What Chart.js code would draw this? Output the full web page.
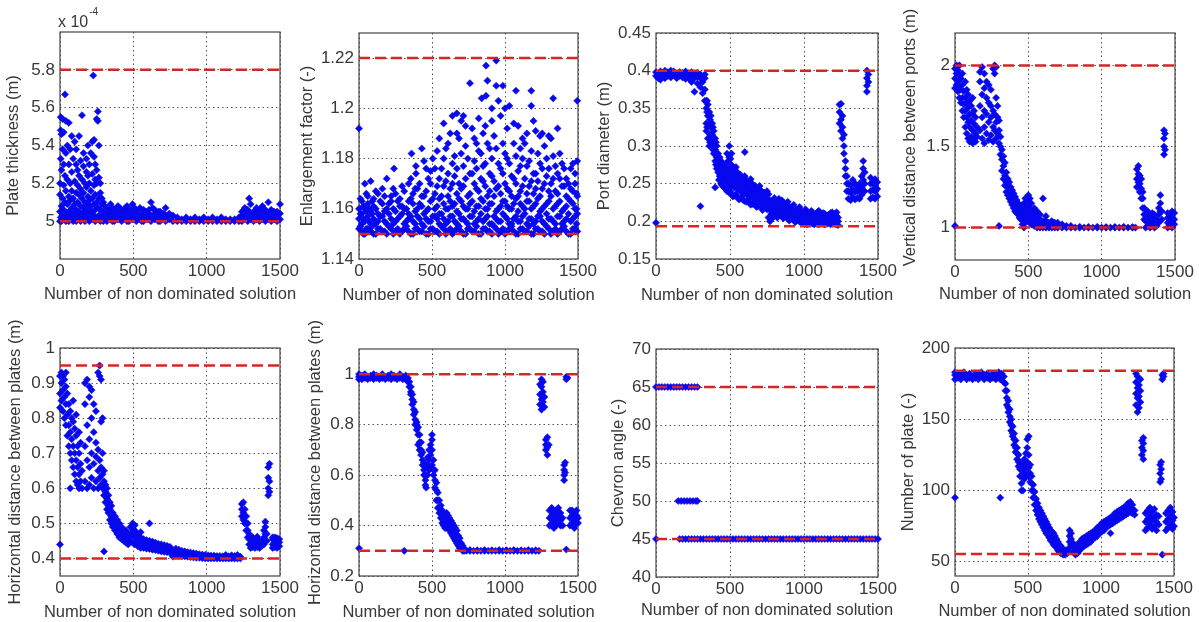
<!DOCTYPE html>
<html>
<head>
<meta charset="utf-8">
<title>Non dominated solutions</title>
<script src="https://cdn.jsdelivr.net/npm/chart.js@4.4.0/dist/chart.umd.min.js"></script>
<style>
  body { margin: 0; background: #fff; }
  #wrap { position: relative; width: 1199px; height: 622px; overflow: hidden; }
  #wrap canvas { position: absolute; }
</style>
</head>
<body>
<div id="wrap"></div>
<script>
// x axis: index of the non dominated solution
var xTicks = [0, 500, 1000, 1500];

// each row: [solution index, y values read at that index...]
// plate thickness, in units of 1e-4 m
var plateThickness = [
  [0, 5.0, 5.05, 5.14, 5.2], [5, 5.02, 5.33, 5.55, 5.48], [10, 5.0, 5.08, 5.27, 5.46], [18, 5.03, 5.12, 5.38, 5.54],
  [25, 5.01, 5.06, 5.19, 5.47, 5.3], [34, 5.67, 5.02, 5.1, 5.24], [40, 5.0, 5.04, 5.16, 5.36, 5.53], [50, 5.02, 5.09, 5.22, 5.4],
  [60, 5.0, 5.05, 5.13, 5.3, 5.52], [70, 5.03, 5.11, 5.2, 5.38], [80, 5.01, 5.07, 5.16, 5.26, 5.45], [90, 5.0, 5.04, 5.12, 5.33],
  [100, 5.02, 5.09, 5.21, 5.42], [110, 5.0, 5.06, 5.15, 5.3, 5.38], [120, 5.03, 5.1, 5.19, 5.27], [130, 5.01, 5.05, 5.14, 5.24, 5.45],
  [140, 5.0, 5.08, 5.17, 5.32], [150, 5.02, 5.04, 5.12, 5.22, 5.56], [160, 5.01, 5.07, 5.15, 5.29, 5.36], [170, 5.0, 5.05, 5.1, 5.2],
  [180, 5.03, 5.09, 5.18, 5.33, 5.26], [190, 5.01, 5.06, 5.13, 5.24, 5.4], [200, 5.0, 5.04, 5.11, 5.2, 5.3], [210, 5.02, 5.08, 5.16, 5.36],
  [220, 5.01, 5.05, 5.12, 5.25, 5.42], [227, 5.77], [232, 5.03, 5.09, 5.19, 5.34, 5.43], [240, 5.0, 5.06, 5.14, 5.22, 5.3],
  [250, 5.02, 5.1, 5.2, 5.27, 5.54], [258, 5.58, 5.53, 5.01, 5.07], [265, 5.03, 5.12, 5.23, 5.4], [275, 5.0, 5.06, 5.15, 5.2],
  [285, 5.02, 5.09, 5.12], [295, 5.0, 5.05, 5.1], [305, 5.01, 5.04, 5.08],
  [320, 5.0, 5.03, 5.07], [345, 5.01, 5.05, 5.09], [370, 5.0, 5.02, 5.06], [395, 5.01, 5.04, 5.08], [420, 5.0, 5.03, 5.06],
  [445, 5.01, 5.05, 5.07], [470, 5.0, 5.02, 5.05], [495, 5.01, 5.04, 5.09], [520, 5.0, 5.03, 5.06], [545, 5.01, 5.02, 5.07],
  [570, 5.0, 5.04, 5.06], [595, 5.01, 5.03, 5.05], [620, 5.0, 5.02, 5.1], [645, 5.01, 5.04, 5.06], [670, 5.0, 5.03, 5.05],
  [695, 5.01, 5.02, 5.04], [720, 5.0, 5.03, 5.07], [745, 5.01, 5.02, 5.04], [770, 5.0, 5.03], [800, 5.0, 5.02],
  [830, 5.01, 5.0], [860, 5.0, 5.02], [890, 5.01, 5.0], [920, 5.0, 5.02], [950, 5.01, 5.0], [980, 5.0, 5.02],
  [1010, 5.01, 5.0], [1040, 5.0, 5.02], [1070, 5.01, 5.0], [1100, 5.0, 5.02], [1130, 5.01, 5.0], [1160, 5.0, 5.01],
  [1190, 5.01, 5.0], [1220, 5.0, 5.02],
  [1240, 5.0, 5.03, 5.05], [1260, 5.01, 5.04, 5.07], [1280, 5.0, 5.03, 5.06], [1290, 5.12], [1300, 5.01, 5.04, 5.09],
  [1320, 5.0, 5.02, 5.05], [1340, 5.01, 5.04, 5.07], [1360, 5.0, 5.03, 5.06], [1380, 5.01, 5.05, 5.08], [1400, 5.0, 5.03, 5.06],
  [1420, 5.01, 5.04, 5.1], [1440, 5.0, 5.02, 5.06], [1460, 5.01, 5.04, 5.05], [1480, 5.0, 5.03, 5.05], [1500, 5.01, 5.04, 5.09],
  [332, 5.02, 5.05], [357, 5.0, 5.04, 5.07], [382, 5.02, 5.06], [407, 5.01, 5.04, 5.07], [432, 5.02, 5.05],
  [457, 5.0, 5.04, 5.08], [482, 5.02, 5.06], [507, 5.01, 5.05, 5.07], [532, 5.02, 5.04], [557, 5.0, 5.03, 5.06],
  [582, 5.02, 5.05], [607, 5.01, 5.04, 5.06], [632, 5.02, 5.07], [657, 5.01, 5.04], [682, 5.0, 5.03, 5.05], [707, 5.02, 5.04]
];

var enlargement = [
  [0, 1.192, 1.152, 1.156, 1.16], [20, 1.151, 1.154, 1.158, 1.163], [40, 1.15, 1.155, 1.16, 1.17], [60, 1.152, 1.157, 1.162, 1.165],
  [80, 1.151, 1.154, 1.159, 1.171], [100, 1.15, 1.156, 1.161, 1.164], [130, 1.152, 1.155, 1.158, 1.166], [160, 1.151, 1.157, 1.162, 1.168],
  [190, 1.15, 1.154, 1.16, 1.172], [220, 1.152, 1.156, 1.163, 1.165], [240, 1.176], [250, 1.151, 1.155, 1.159, 1.166],
  [280, 1.15, 1.157, 1.161, 1.164], [310, 1.152, 1.154, 1.16, 1.167], [340, 1.151, 1.156, 1.158, 1.163, 1.17], [360, 1.182],
  [370, 1.15, 1.155, 1.162, 1.166], [390, 1.174, 1.177], [400, 1.152, 1.157, 1.16, 1.168], [430, 1.151, 1.154, 1.161, 1.165, 1.184],
  [460, 1.15, 1.156, 1.159, 1.167, 1.176], [490, 1.152, 1.155, 1.163, 1.17, 1.175], [520, 1.151, 1.157, 1.16, 1.166, 1.176],
  [550, 1.15, 1.154, 1.158, 1.164, 1.172, 1.188], [580, 1.152, 1.156, 1.162, 1.169, 1.18, 1.194],
  [610, 1.151, 1.155, 1.16, 1.165, 1.174, 1.186], [640, 1.15, 1.157, 1.161, 1.17, 1.178, 1.197],
  [670, 1.152, 1.154, 1.159, 1.166, 1.176, 1.19, 1.198], [700, 1.151, 1.156, 1.163, 1.168, 1.182, 1.195],
  [730, 1.15, 1.155, 1.16, 1.172, 1.185, 1.193], [760, 1.152, 1.157, 1.162, 1.166, 1.174, 1.21],
  [790, 1.151, 1.154, 1.159, 1.17, 1.179, 1.188], [820, 1.15, 1.156, 1.161, 1.167, 1.183, 1.196], [840, 1.204],
  [850, 1.152, 1.155, 1.163, 1.171, 1.177, 1.19], [870, 1.217, 1.205], [880, 1.151, 1.157, 1.16, 1.165, 1.186, 1.211],
  [910, 1.15, 1.154, 1.162, 1.173, 1.18, 1.195, 1.2], [940, 1.152, 1.156, 1.159, 1.168, 1.184, 1.219, 1.209],
  [970, 1.151, 1.155, 1.161, 1.166, 1.176, 1.197], [985, 1.209], [1000, 1.15, 1.157, 1.163, 1.17, 1.182, 1.2],
  [1030, 1.152, 1.154, 1.16, 1.167, 1.178, 1.201], [1060, 1.151, 1.156, 1.162, 1.172, 1.186, 1.194], [1075, 1.207],
  [1090, 1.15, 1.155, 1.159, 1.165, 1.175, 1.193], [1120, 1.152, 1.157, 1.161, 1.169, 1.18, 1.188],
  [1150, 1.151, 1.154, 1.163, 1.166, 1.177, 1.19], [1180, 1.15, 1.156, 1.16, 1.171, 1.183, 1.207, 1.201],
  [1210, 1.152, 1.155, 1.162, 1.168, 1.174, 1.191], [1240, 1.151, 1.157, 1.159, 1.165, 1.178, 1.189],
  [1270, 1.15, 1.154, 1.161, 1.17, 1.185], [1300, 1.152, 1.156, 1.163, 1.167, 1.176, 1.189],
  [1330, 1.151, 1.155, 1.16, 1.172, 1.181, 1.204], [1360, 1.15, 1.157, 1.162, 1.166, 1.174, 1.192],
  [1390, 1.152, 1.154, 1.159, 1.169, 1.178], [1420, 1.151, 1.156, 1.161, 1.165, 1.172], [1450, 1.15, 1.155, 1.163, 1.168, 1.176],
  [1480, 1.152, 1.157, 1.16, 1.17, 1.174], [1495, 1.151, 1.158, 1.179, 1.203, 1.165],
  [10, 1.153, 1.158, 1.164], [30, 1.15, 1.156, 1.161], [50, 1.152, 1.159, 1.166], [70, 1.151, 1.155, 1.16], [90, 1.153, 1.158, 1.163],
  [115, 1.15, 1.154, 1.16, 1.167], [145, 1.152, 1.157, 1.163], [175, 1.151, 1.155, 1.159, 1.165], [205, 1.153, 1.158, 1.162],
  [235, 1.15, 1.154, 1.16, 1.168], [265, 1.152, 1.156, 1.163], [295, 1.151, 1.158, 1.161, 1.169], [325, 1.153, 1.155, 1.16],
  [355, 1.15, 1.157, 1.164, 1.172], [385, 1.152, 1.154, 1.159, 1.168], [415, 1.151, 1.156, 1.162, 1.17],
  [445, 1.153, 1.158, 1.165, 1.179], [475, 1.15, 1.155, 1.16, 1.172], [505, 1.152, 1.157, 1.164, 1.18],
  [535, 1.151, 1.156, 1.161, 1.169, 1.183], [565, 1.153, 1.158, 1.165, 1.176], [595, 1.15, 1.154, 1.16, 1.171, 1.184],
  [625, 1.152, 1.157, 1.163, 1.168, 1.19], [655, 1.151, 1.155, 1.162, 1.173, 1.181], [685, 1.153, 1.158, 1.164, 1.17, 1.188],
  [715, 1.15, 1.156, 1.161, 1.169, 1.177, 1.197], [745, 1.152, 1.154, 1.16, 1.165, 1.18], [775, 1.151, 1.157, 1.163, 1.174, 1.192],
  [805, 1.153, 1.155, 1.161, 1.168, 1.176, 1.186], [835, 1.15, 1.158, 1.164, 1.172, 1.182], [865, 1.152, 1.156, 1.16, 1.169, 1.178, 1.193],
  [895, 1.151, 1.154, 1.162, 1.167, 1.174, 1.184], [925, 1.153, 1.157, 1.165, 1.171, 1.189], [955, 1.15, 1.155, 1.16, 1.169, 1.178, 1.203],
  [985, 1.152, 1.158, 1.163, 1.174, 1.186], [1015, 1.151, 1.156, 1.161, 1.168, 1.18, 1.192], [1045, 1.153, 1.154, 1.16, 1.165, 1.173],
  [1075, 1.15, 1.157, 1.164, 1.17, 1.181], [1105, 1.152, 1.155, 1.162, 1.167, 1.177, 1.184], [1135, 1.151, 1.158, 1.16, 1.172, 1.186],
  [1165, 1.153, 1.156, 1.163, 1.169, 1.179], [1195, 1.15, 1.154, 1.161, 1.166, 1.174, 1.195], [1225, 1.152, 1.157, 1.164, 1.171, 1.182],
  [1255, 1.151, 1.155, 1.16, 1.168, 1.176, 1.19], [1285, 1.153, 1.158, 1.162, 1.173, 1.18], [1315, 1.15, 1.156, 1.165, 1.17, 1.188],
  [1345, 1.152, 1.154, 1.161, 1.167, 1.177], [1375, 1.151, 1.157, 1.163, 1.172, 1.182], [1405, 1.153, 1.155, 1.16, 1.169, 1.176],
  [1435, 1.15, 1.158, 1.164, 1.17], [1465, 1.152, 1.156, 1.162, 1.167, 1.178], [1490, 1.151, 1.154, 1.16, 1.166]
];

var portDiameter = [
  [0, 0.198, 0.393, 0.398], [15, 0.39, 0.396], [30, 0.394, 0.399, 0.388], [45, 0.392, 0.397], [60, 0.39, 0.395, 0.4],
  [80, 0.393, 0.398], [100, 0.391, 0.396, 0.4], [120, 0.394, 0.399], [140, 0.39, 0.395], [160, 0.393, 0.398], [180, 0.391, 0.397],
  [200, 0.394, 0.399, 0.389], [220, 0.39, 0.396], [240, 0.393, 0.398, 0.385], [260, 0.39, 0.395, 0.372], [280, 0.392, 0.397, 0.383],
  [300, 0.39, 0.395, 0.22, 0.378], [315, 0.37, 0.385, 0.392], [330, 0.36, 0.375, 0.39, 0.395],
  [340, 0.33, 0.35, 0.36, 0.32], [350, 0.34, 0.355, 0.31], [360, 0.33, 0.345, 0.3], [370, 0.31, 0.325, 0.34], [380, 0.3, 0.315, 0.33],
  [390, 0.29, 0.305, 0.32], [400, 0.28, 0.295, 0.31, 0.245], [410, 0.27, 0.285, 0.3], [420, 0.265, 0.28, 0.29], [430, 0.26, 0.275, 0.285],
  [440, 0.255, 0.265, 0.28, 0.25], [450, 0.25, 0.262, 0.275], [460, 0.245, 0.258, 0.27], [470, 0.243, 0.255, 0.268],
  [480, 0.24, 0.252, 0.265, 0.29], [495, 0.238, 0.25, 0.262, 0.3, 0.285], [510, 0.236, 0.248, 0.26, 0.275, 0.29],
  [530, 0.234, 0.245, 0.257, 0.27], [550, 0.232, 0.243, 0.255, 0.265], [570, 0.23, 0.24, 0.252, 0.262], [590, 0.228, 0.238, 0.25, 0.258],
  [600, 0.292], [610, 0.226, 0.236, 0.247, 0.255], [630, 0.225, 0.234, 0.245, 0.252], [650, 0.223, 0.232, 0.242, 0.25],
  [670, 0.222, 0.23, 0.24, 0.247], [690, 0.22, 0.228, 0.238, 0.244], [710, 0.219, 0.226, 0.235, 0.241], [730, 0.218, 0.225, 0.232, 0.238],
  [750, 0.216, 0.224, 0.23, 0.24], [770, 0.2, 0.215, 0.222, 0.228], [790, 0.205, 0.213, 0.22, 0.227], [810, 0.21, 0.218, 0.225],
  [830, 0.208, 0.216, 0.224, 0.23], [850, 0.207, 0.214, 0.222, 0.228], [870, 0.206, 0.212, 0.219], [890, 0.204, 0.211, 0.218, 0.226],
  [910, 0.203, 0.21, 0.216], [930, 0.202, 0.208, 0.215, 0.222], [950, 0.201, 0.207, 0.213], [970, 0.2, 0.206, 0.212, 0.219],
  [990, 0.199, 0.205, 0.211], [1010, 0.198, 0.204, 0.21, 0.216], [1030, 0.197, 0.203, 0.209], [1050, 0.198, 0.202, 0.208, 0.214],
  [1070, 0.196, 0.201, 0.207], [1090, 0.197, 0.202, 0.206, 0.212], [1110, 0.198, 0.201, 0.205], [1130, 0.197, 0.203, 0.207, 0.211],
  [1150, 0.198, 0.202, 0.206], [1170, 0.199, 0.204, 0.209], [1190, 0.198, 0.203, 0.207, 0.212], [1210, 0.197, 0.201, 0.205, 0.21],
  [1230, 0.195, 0.2, 0.205],
  [1240, 0.33, 0.345, 0.355], [1250, 0.32, 0.335, 0.356], [1260, 0.31, 0.325, 0.34], [1270, 0.3, 0.315, 0.29],
  [1280, 0.27, 0.28, 0.26], [1290, 0.25, 0.26, 0.24], [1300, 0.23, 0.24, 0.25], [1315, 0.228, 0.238, 0.248],
  [1330, 0.232, 0.242, 0.255], [1345, 0.229, 0.239, 0.25], [1360, 0.231, 0.24, 0.246], [1375, 0.23, 0.24, 0.25],
  [1390, 0.235, 0.245, 0.26], [1400, 0.255, 0.27, 0.28], [1410, 0.24, 0.25, 0.265], [1425, 0.38, 0.39, 0.4, 0.372],
  [1435, 0.385, 0.395], [1450, 0.23, 0.24, 0.25, 0.258], [1465, 0.232, 0.242, 0.252], [1480, 0.23, 0.24, 0.248, 0.256],
  [1495, 0.233, 0.243, 0.252],
  [345, 0.345, 0.325, 0.36], [365, 0.315, 0.335, 0.305], [385, 0.295, 0.31, 0.325], [405, 0.275, 0.29, 0.305],
  [425, 0.268, 0.283, 0.255], [445, 0.258, 0.27, 0.248], [465, 0.25, 0.264, 0.275], [487, 0.244, 0.258, 0.27, 0.28],
  [503, 0.24, 0.255, 0.268, 0.283], [520, 0.233, 0.252, 0.264], [540, 0.236, 0.249, 0.26, 0.272], [560, 0.229, 0.246, 0.258],
  [580, 0.233, 0.245, 0.256], [600, 0.227, 0.24, 0.251, 0.26], [620, 0.229, 0.241, 0.25], [640, 0.222, 0.237, 0.247, 0.256],
  [660, 0.226, 0.235, 0.244], [680, 0.219, 0.233, 0.243], [700, 0.223, 0.231, 0.239, 0.247], [720, 0.215, 0.229, 0.236],
  [740, 0.221, 0.228, 0.235], [760, 0.205, 0.218, 0.226, 0.236], [780, 0.21, 0.218, 0.225], [800, 0.207, 0.215, 0.223, 0.231],
  [820, 0.205, 0.213, 0.221], [840, 0.211, 0.219, 0.226], [860, 0.204, 0.21, 0.217, 0.225], [880, 0.208, 0.215, 0.221],
  [900, 0.201, 0.207, 0.213, 0.22], [920, 0.205, 0.212, 0.218], [940, 0.199, 0.205, 0.21, 0.217], [960, 0.203, 0.209, 0.215],
  [980, 0.198, 0.203, 0.208, 0.214], [1000, 0.201, 0.207, 0.213], [1020, 0.196, 0.2, 0.206, 0.212], [1040, 0.2, 0.205, 0.211],
  [1060, 0.197, 0.203, 0.21], [1080, 0.199, 0.204, 0.209], [1100, 0.196, 0.2, 0.207, 0.214], [1120, 0.199, 0.203, 0.208],
  [1140, 0.196, 0.201, 0.205, 0.21], [1160, 0.197, 0.203, 0.208], [1180, 0.196, 0.2, 0.206, 0.211], [1200, 0.199, 0.204, 0.209],
  [1220, 0.196, 0.202, 0.207, 0.212]
];

var verticalDistance = [
  [0, 1.01, 1.86, 1.92, 1.98], [10, 1.88, 1.95, 2.0], [20, 1.84, 1.9, 1.97], [30, 1.8, 1.87, 1.94, 2.0], [40, 1.77, 1.85, 1.92],
  [50, 1.72, 1.8, 1.88, 1.95], [60, 1.68, 1.76, 1.84], [70, 1.62, 1.72, 1.8, 1.9], [80, 1.58, 1.68, 1.77, 1.85],
  [90, 1.55, 1.65, 1.74, 1.82], [100, 1.53, 1.62, 1.7, 1.78], [110, 1.56, 1.66, 1.75], [120, 1.52, 1.6, 1.7, 1.8],
  [130, 1.55, 1.64, 1.72], [140, 1.53, 1.58, 1.68], [150, 1.56, 1.62], [170, 1.6, 1.75, 1.9, 1.96], [185, 1.55, 1.68, 1.82, 1.99],
  [200, 1.52, 1.62, 1.72, 1.86, 1.95], [215, 1.58, 1.7, 1.8, 1.9], [230, 1.54, 1.65, 1.77, 1.88], [245, 1.57, 1.68, 1.75, 1.85],
  [260, 1.53, 1.62, 1.72, 1.98], [270, 1.6, 1.7, 1.95, 2.0], [280, 1.55, 1.65, 1.8, 1.99], [290, 1.58, 1.68, 1.75],
  [300, 1.01, 1.52, 1.6, 1.66], [310, 1.45, 1.5, 1.56], [320, 1.35, 1.42, 1.48], [330, 1.3, 1.38, 1.44], [340, 1.26, 1.32, 1.4],
  [350, 1.22, 1.28, 1.34], [360, 1.2, 1.25, 1.3], [370, 1.18, 1.23, 1.28], [380, 1.16, 1.2, 1.25], [390, 1.14, 1.18, 1.23],
  [400, 1.12, 1.16, 1.21], [410, 1.1, 1.14, 1.19], [420, 1.09, 1.12, 1.17], [430, 1.08, 1.11, 1.15], [440, 1.06, 1.1, 1.14],
  [450, 1.05, 1.08, 1.12], [460, 1.02, 1.06, 1.1], [470, 1.0, 1.05, 1.1, 1.15], [480, 1.03, 1.08, 1.13, 1.18],
  [490, 1.05, 1.1, 1.16], [500, 1.04, 1.08, 1.14, 1.2], [510, 1.03, 1.07, 1.12, 1.18], [520, 1.02, 1.06, 1.1, 1.15],
  [540, 1.01, 1.04, 1.08, 1.12], [560, 1.0, 1.03, 1.06, 1.1], [580, 1.0, 1.02, 1.05, 1.08], [600, 1.0, 1.02, 1.04, 1.18],
  [620, 1.0, 1.01, 1.04, 1.07], [640, 1.0, 1.02, 1.03], [660, 1.0, 1.01, 1.04], [680, 1.0, 1.02, 1.03], [700, 1.0, 1.01, 1.03],
  [730, 1.0, 1.02], [760, 1.0, 1.01], [790, 1.0, 1.01], [820, 1.0], [850, 1.0, 1.005], [880, 1.0], [910, 1.0, 1.004],
  [940, 1.0], [970, 1.0, 1.005], [1000, 1.0], [1030, 1.0, 1.003], [1060, 1.0], [1090, 1.0, 1.004], [1120, 1.0],
  [1150, 1.0, 1.005], [1180, 1.0], [1210, 1.0, 1.003], [1230, 1.0],
  [1240, 1.25, 1.3, 1.36], [1250, 1.28, 1.33, 1.38], [1260, 1.22, 1.27, 1.32], [1270, 1.18, 1.24, 1.3], [1280, 1.12, 1.18, 1.22],
  [1290, 1.05, 1.08, 1.12], [1300, 1.0, 1.04, 1.08], [1315, 1.01, 1.05, 1.1], [1330, 1.0, 1.03, 1.07], [1345, 1.02, 1.06, 1.09],
  [1360, 1.0, 1.04, 1.08], [1375, 1.01, 1.05], [1390, 1.03, 1.08, 1.12], [1400, 1.1, 1.15, 1.2], [1410, 1.05, 1.1],
  [1425, 1.45, 1.5, 1.55, 1.6], [1432, 1.48, 1.58], [1450, 1.0, 1.03, 1.06, 1.09], [1465, 1.01, 1.04, 1.08],
  [1480, 1.0, 1.02, 1.06, 1.1], [1495, 1.02, 1.05, 1.09]
];

var horizontalDistanceA = [
  [0, 0.44, 0.83, 0.87, 0.92], [10, 0.85, 0.9, 0.93], [20, 0.82, 0.88, 0.92], [30, 0.8, 0.86, 0.91], [40, 0.78, 0.84, 0.89, 0.93],
  [50, 0.75, 0.81, 0.87], [60, 0.72, 0.78, 0.84], [70, 0.6, 0.7, 0.76, 0.82], [80, 0.68, 0.74, 0.8], [90, 0.66, 0.72, 0.79, 0.85],
  [100, 0.64, 0.7, 0.77], [110, 0.62, 0.68, 0.75, 0.81], [120, 0.61, 0.66, 0.72], [130, 0.6, 0.64, 0.7, 0.76], [140, 0.62, 0.67, 0.73],
  [150, 0.6, 0.65], [170, 0.62, 0.72, 0.84, 0.9], [185, 0.6, 0.68, 0.78, 0.91], [200, 0.61, 0.66, 0.74, 0.86, 0.89],
  [215, 0.63, 0.7, 0.8, 0.88], [230, 0.6, 0.67, 0.76, 0.84], [245, 0.62, 0.69, 0.73, 0.82], [260, 0.6, 0.65, 0.71, 0.93],
  [270, 0.63, 0.68, 0.92, 0.95], [280, 0.61, 0.66, 0.79, 0.91], [290, 0.6, 0.64, 0.7, 0.8], [300, 0.42, 0.58, 0.62, 0.65],
  [310, 0.56, 0.59, 0.61], [320, 0.54, 0.57, 0.6], [330, 0.53, 0.55, 0.58], [340, 0.51, 0.54, 0.56], [350, 0.5, 0.52, 0.55],
  [360, 0.49, 0.51, 0.53], [375, 0.48, 0.5, 0.52], [390, 0.47, 0.49, 0.51], [405, 0.46, 0.48, 0.5], [420, 0.455, 0.47, 0.49],
  [435, 0.45, 0.465, 0.48], [450, 0.445, 0.46, 0.48], [465, 0.44, 0.455, 0.47], [480, 0.45, 0.47, 0.49],
  [495, 0.445, 0.465, 0.485, 0.5], [510, 0.44, 0.46, 0.48, 0.495], [530, 0.435, 0.45, 0.47], [550, 0.43, 0.445, 0.46, 0.475],
  [570, 0.43, 0.44, 0.455], [590, 0.428, 0.44, 0.452], [610, 0.427, 0.438, 0.45, 0.5], [630, 0.425, 0.436, 0.448],
  [650, 0.424, 0.434, 0.445], [670, 0.422, 0.432, 0.442], [690, 0.42, 0.43, 0.44], [710, 0.419, 0.428, 0.438],
  [730, 0.418, 0.426, 0.436], [750, 0.416, 0.424, 0.433], [770, 0.405, 0.415, 0.423], [790, 0.41, 0.418, 0.428],
  [810, 0.408, 0.416, 0.425], [830, 0.407, 0.414, 0.422], [850, 0.406, 0.413, 0.42], [870, 0.405, 0.412, 0.418],
  [890, 0.404, 0.41, 0.417], [910, 0.403, 0.409, 0.415], [930, 0.402, 0.408, 0.414], [950, 0.402, 0.407, 0.412],
  [970, 0.401, 0.406, 0.411], [990, 0.4, 0.405, 0.41], [1010, 0.4, 0.404, 0.409], [1030, 0.4, 0.404, 0.408],
  [1050, 0.4, 0.403, 0.408], [1070, 0.4, 0.403, 0.407], [1090, 0.4, 0.402, 0.407], [1110, 0.4, 0.402, 0.406],
  [1130, 0.4, 0.403, 0.41], [1150, 0.4, 0.402, 0.406], [1170, 0.4, 0.403, 0.409], [1190, 0.4, 0.402, 0.407],
  [1210, 0.4, 0.403, 0.41], [1230, 0.4, 0.405],
  [1240, 0.52, 0.54, 0.555], [1250, 0.51, 0.53, 0.56], [1260, 0.5, 0.52, 0.54], [1270, 0.48, 0.5, 0.52], [1280, 0.46, 0.48, 0.5],
  [1290, 0.44, 0.455, 0.47], [1300, 0.43, 0.44, 0.455], [1315, 0.432, 0.445, 0.46], [1330, 0.43, 0.44, 0.452],
  [1345, 0.433, 0.446, 0.462], [1360, 0.43, 0.44, 0.45], [1375, 0.435, 0.448], [1390, 0.44, 0.46, 0.48],
  [1400, 0.47, 0.49, 0.505], [1410, 0.45, 0.47], [1420, 0.58, 0.6, 0.63, 0.66], [1428, 0.59, 0.62, 0.67],
  [1450, 0.43, 0.44, 0.455, 0.46], [1465, 0.432, 0.445, 0.46], [1480, 0.43, 0.44, 0.452, 0.458], [1495, 0.435, 0.446, 0.455]
];

var horizontalDistanceB = [
  [0, 0.31, 0.98, 0.99, 1.0], [20, 0.98, 0.995], [40, 0.985, 1.0], [60, 0.98, 0.99], [80, 0.985, 0.995], [100, 0.98, 0.99, 1.0],
  [120, 0.985, 0.995], [140, 0.98, 0.99], [160, 0.985, 1.0], [180, 0.98, 0.99], [200, 0.985, 0.995], [220, 0.98, 0.99, 1.0],
  [240, 0.985, 0.995], [260, 0.98, 0.99], [280, 0.985, 1.0], [300, 0.98, 0.99], [310, 0.3, 0.985], [320, 0.98, 0.995],
  [335, 0.97, 0.985], [345, 0.95, 0.97], [355, 0.93, 0.95, 0.92], [365, 0.9, 0.92, 0.88], [375, 0.86, 0.89, 0.84],
  [385, 0.82, 0.85, 0.8], [395, 0.78, 0.81, 0.8], [405, 0.76, 0.79, 0.72], [415, 0.73, 0.76, 0.7], [425, 0.7, 0.73, 0.68],
  [435, 0.66, 0.69, 0.64], [445, 0.62, 0.65, 0.6], [455, 0.58, 0.6, 0.56], [460, 0.55, 0.63], [470, 0.6, 0.64, 0.67],
  [480, 0.62, 0.66, 0.7], [490, 0.63, 0.68, 0.72], [500, 0.64, 0.7, 0.74, 0.76], [510, 0.62, 0.66, 0.6], [520, 0.58, 0.62, 0.55],
  [530, 0.54, 0.57, 0.5], [540, 0.5, 0.53, 0.47], [550, 0.47, 0.5, 0.45], [560, 0.45, 0.48, 0.43], [570, 0.43, 0.46, 0.41],
  [580, 0.42, 0.44, 0.4], [590, 0.41, 0.43, 0.39], [600, 0.4, 0.42, 0.45], [610, 0.39, 0.41, 0.44], [620, 0.38, 0.4, 0.43],
  [630, 0.37, 0.39, 0.42], [640, 0.36, 0.38, 0.41], [650, 0.35, 0.37, 0.4], [660, 0.34, 0.36, 0.39], [670, 0.33, 0.35, 0.38],
  [680, 0.32, 0.34, 0.36], [690, 0.31, 0.33, 0.35], [700, 0.31, 0.32, 0.33], [710, 0.3, 0.31, 0.32], [720, 0.3, 0.31],
  [735, 0.3], [760, 0.3, 0.303], [785, 0.3], [810, 0.3, 0.302], [835, 0.3], [860, 0.3, 0.303], [885, 0.3], [910, 0.3, 0.302],
  [935, 0.3], [960, 0.3, 0.303], [985, 0.3], [1010, 0.3, 0.302], [1035, 0.3], [1060, 0.3, 0.303], [1085, 0.3],
  [1110, 0.3, 0.302], [1135, 0.3], [1160, 0.3, 0.303], [1185, 0.3], [1210, 0.3, 0.302], [1232, 0.3],
  [1240, 0.88, 0.92, 0.96], [1250, 0.86, 0.9, 0.95, 0.98], [1260, 0.89, 0.93, 0.97], [1270, 0.87, 0.91], [1280, 0.7, 0.72, 0.74],
  [1290, 0.68, 0.71, 0.75], [1300, 0.72], [1305, 0.4, 0.43, 0.46], [1320, 0.41, 0.44, 0.47], [1335, 0.39, 0.42, 0.45],
  [1350, 0.4, 0.43, 0.46], [1365, 0.41, 0.44, 0.47], [1380, 0.4, 0.42, 0.45], [1395, 0.4, 0.43], [1405, 0.6, 0.62, 0.64, 0.58],
  [1412, 0.61, 0.65], [1420, 0.98, 0.99, 0.305], [1428, 0.985], [1445, 0.4, 0.43, 0.46], [1460, 0.41, 0.44, 0.46],
  [1475, 0.39, 0.42, 0.45], [1490, 0.41, 0.44, 0.46], [1500, 0.41, 0.43]
];

var chevronAngle = [
  [0, 65, 45], [20, 65], [40, 65], [60, 65], [80, 65], [100, 65], [120, 65], [140, 65],
  [150, 50], [160, 65, 45], [170, 50], [180, 65, 45], [190, 50], [200, 65, 45], [210, 50], [220, 65, 45], [230, 50],
  [240, 65, 45], [250, 50], [260, 65, 45], [270, 50], [280, 65, 50, 45],
  [300, 45], [320, 45], [340, 45], [360, 45], [380, 45], [400, 45], [420, 45], [440, 45], [460, 45], [480, 45],
  [500, 45], [520, 45], [540, 45], [560, 45], [580, 45], [600, 45], [620, 45], [640, 45], [660, 45], [680, 45],
  [700, 45], [720, 45], [740, 45], [760, 45], [780, 45], [800, 45], [820, 45], [840, 45], [860, 45], [880, 45],
  [900, 45], [920, 45], [940, 45], [960, 45], [980, 45], [1000, 45], [1020, 45], [1040, 45], [1060, 45], [1080, 45],
  [1100, 45], [1120, 45], [1140, 45], [1160, 45], [1180, 45], [1200, 45], [1220, 45], [1240, 45], [1260, 45], [1280, 45],
  [1300, 45], [1320, 45], [1340, 45], [1360, 45], [1380, 45], [1400, 45], [1420, 45], [1440, 45], [1460, 45], [1480, 45],
  [1500, 45]
];

var plateCount = [
  [0, 95, 178, 181, 183], [20, 179, 182], [40, 178, 181], [60, 180, 183], [80, 178, 181], [100, 179, 182], [120, 178, 180],
  [140, 179, 182], [160, 178, 181], [180, 180, 183], [200, 178, 181], [220, 179, 182], [240, 178, 180], [260, 179, 182],
  [280, 178, 181], [300, 180, 183], [310, 95, 178], [320, 179, 182], [335, 176, 180], [345, 170, 175], [355, 165, 170, 160],
  [365, 158, 163, 155], [375, 152, 157, 148], [385, 146, 150, 142], [395, 140, 145, 138], [405, 136, 140, 132],
  [415, 130, 135, 127], [425, 126, 130, 122], [435, 120, 125, 117], [445, 115, 120, 110], [455, 105, 110, 100],
  [465, 100, 112, 118], [475, 108, 115, 122], [485, 110, 118, 126], [495, 112, 120, 130, 136], [505, 110, 116, 125, 138],
  [515, 106, 112, 118], [525, 100, 105, 110], [535, 95, 100, 104], [545, 90, 95, 99], [555, 86, 90, 94], [565, 83, 87, 91],
  [575, 80, 84, 88], [585, 78, 82, 86], [595, 76, 80, 84], [605, 74, 78, 82], [615, 72, 76, 80], [625, 70, 74, 78],
  [635, 69, 72, 76], [645, 67, 70, 74], [655, 65, 69, 72], [665, 64, 67, 71], [675, 62, 66, 70], [685, 61, 64, 68],
  [695, 60, 63, 66], [705, 58, 61, 64], [715, 57, 60, 62], [725, 56, 58, 61], [740, 55, 57, 59], [755, 55, 56, 58],
  [770, 56, 58], [785, 60, 64, 68, 72], [795, 62, 66, 70], [810, 57, 60, 63], [825, 55, 58, 61], [840, 56, 59, 62],
  [855, 58, 61, 64], [870, 60, 63, 66], [885, 61, 64, 67], [900, 62, 65, 68], [915, 63, 66, 69], [930, 64, 67, 70],
  [945, 66, 69, 71], [960, 67, 70, 72], [975, 68, 71, 74], [990, 70, 72, 75], [1005, 71, 74, 77], [1020, 72, 75, 78],
  [1035, 74, 77, 79], [1050, 75, 78, 80], [1065, 70, 76, 79, 81], [1080, 77, 80, 82], [1095, 78, 81, 84], [1110, 79, 82, 85],
  [1125, 80, 83, 86], [1140, 81, 84, 87], [1155, 82, 85, 88], [1170, 83, 86, 89], [1185, 84, 88, 91], [1200, 85, 88, 92],
  [1215, 84, 87, 90], [1230, 83, 86],
  [1240, 160, 168, 176, 182], [1250, 155, 165, 172, 180], [1260, 158, 166, 174], [1270, 162, 170, 178],
  [1280, 125, 130, 135], [1290, 122, 128, 133, 137], [1305, 72, 78, 84], [1320, 74, 80, 86], [1335, 76, 82, 88],
  [1350, 73, 79, 85], [1365, 75, 81, 87], [1380, 72, 78, 83], [1395, 76, 82], [1405, 106, 112, 118], [1412, 108, 115, 120],
  [1420, 55, 178, 181], [1428, 180, 182], [1445, 72, 78, 84], [1460, 74, 80, 86], [1475, 76, 82, 88], [1490, 73, 79, 85],
  [1500, 75, 81]
];

// red dashed bounds of each design variable
var thicknessBounds = [5.0, 5.8];
var enlargementBounds = [1.15, 1.22];
var portBounds = [0.1935, 0.4];
var verticalBounds = [1.0, 2.0];
var horizontalABounds = [0.4, 0.95];
var horizontalBBounds = [0.3, 1.0];
var chevronBounds = [45, 65];
var plateBounds = [55.5, 184];

// y tick labels
var thicknessTicks = [5, 5.2, 5.4, 5.6, 5.8];
var enlargementTicks = [1.14, 1.16, 1.18, 1.2, 1.22];
var portTicks = [0.15, 0.2, 0.25, 0.3, 0.35, 0.4, 0.45];
var verticalTicks = [1, 1.5, 2];
var horizontalATicks = [0.4, 0.5, 0.6, 0.7, 0.8, 0.9, 1];
var horizontalBTicks = [0.2, 0.4, 0.6, 0.8, 1];
var chevronTicks = [40, 45, 50, 55, 60, 65, 70];
var plateTicks = [50, 100, 150, 200];

var FONT = 'Arial, "Liberation Sans", Helvetica, sans-serif';
var TEXT = '#383838';
var BLUE = '#0808ee';
var RED = '#d92424';
var XTITLE = 'Number of non dominated solution';

var panels = [
  { rows: plateThickness, bounds: thicknessBounds, yMin: 4.8, yMax: 6.0, yTicks: thicknessTicks, yTitle: 'Plate thickness (m)', box: [60, 32, 280, 259], yTitleX: 13, xTitleY: 294, shift: 0, exponent: true },
  { rows: enlargement, bounds: enlargementBounds, yMin: 1.14, yMax: 1.23, yTicks: enlargementTicks, yTitle: 'Enlargement factor (-)', box: [359, 33, 578, 259], yTitleX: 307, xTitleY: 295, shift: 0 },
  { rows: portDiameter, bounds: portBounds, yMin: 0.15, yMax: 0.45, yTicks: portTicks, yTitle: 'Port diameter (m)', box: [656, 33, 878, 259], yTitleX: 604, xTitleY: 295, shift: 0 },
  { rows: verticalDistance, bounds: verticalBounds, yMin: 0.8, yMax: 2.2, yTicks: verticalTicks, yTitle: 'Vertical distance between ports (m)', box: [955, 33, 1175, 260], yTitleX: 910, xTitleY: 294, shift: -9 },
  { rows: horizontalDistanceA, bounds: horizontalABounds, yMin: 0.35, yMax: 1.0, yTicks: horizontalATicks, yTitle: 'Horizontal distance between plates (m)', box: [60, 348, 280, 576], yTitleX: 15, xTitleY: 612, shift: 0 },
  { rows: horizontalDistanceB, bounds: horizontalBBounds, yMin: 0.2, yMax: 1.1, yTicks: horizontalBTicks, yTitle: 'Horizontal distance between plates (m)', box: [359, 349, 578, 576], yTitleX: 315, xTitleY: 612, shift: 0 },
  { rows: chevronAngle, bounds: chevronBounds, yMin: 40, yMax: 70, yTicks: chevronTicks, yTitle: 'Chevron angle (-)', box: [656, 349, 878, 577], yTitleX: 618, xTitleY: 610, shift: 0 },
  { rows: plateCount, bounds: plateBounds, yMin: 40, yMax: 200, yTicks: plateTicks, yTitle: 'Number of plate (-)', box: [955, 348, 1174, 576], yTitleX: 908, xTitleY: 611, shift: 0 }
];

function toPoints(rows) {
  return rows.flatMap(function (r) {
    return r.slice(1).map(function (y) { return { x: r[0], y: y }; });
  });
}

// axes box, titles and the "x 10^-4" multiplier
var frame = {
  id: 'frame',
  beforeDatasetsDraw: function (chart) {
    var a = chart.chartArea, ctx = chart.ctx;
    ctx.save();
    ctx.strokeStyle = '#444';
    ctx.lineWidth = 1.2;
    ctx.strokeRect(a.left, a.top, a.right - a.left, a.bottom - a.top);
    ctx.restore();
  },
  afterDraw: function (chart, args, o) {
    var a = chart.chartArea, ctx = chart.ctx;
    ctx.save();
    ctx.fillStyle = TEXT;
    ctx.font = '16.5px ' + FONT;
    ctx.textAlign = 'center';
    ctx.textBaseline = 'middle';
    ctx.fillText(XTITLE, (a.left + a.right) / 2, o.xTitleY);
    if (o.exponent) {
      ctx.textAlign = 'left';
      ctx.textBaseline = 'alphabetic';
      ctx.font = '16px ' + FONT;
      ctx.fillText('x 10', a.left - 2, a.top - 5);
      var w = ctx.measureText('x 10').width;
      ctx.font = '10px ' + FONT;
      ctx.fillText('-4', a.left - 1 + w, a.top - 17);
      ctx.textAlign = 'center';
      ctx.textBaseline = 'middle';
      ctx.font = '16.5px ' + FONT;
    }
    ctx.translate(o.yTitleX, (a.top + a.bottom) / 2 + o.shift);
    ctx.rotate(-Math.PI / 2);
    ctx.fillText(o.yTitle, 0, 0);
    ctx.restore();
  }
};

function makePanel(p) {
  var left = p.yTitleX - 12, top = p.box[1] - 30, right = p.box[2] + 26, bottom = p.xTitleY + 14;
  var yWidth = p.box[0] - left, xHeight = bottom - p.box[3];
  var canvas = document.createElement('canvas');
  canvas.width = right - left;
  canvas.height = bottom - top;
  canvas.style.left = left + 'px';
  canvas.style.top = top + 'px';
  document.getElementById('wrap').appendChild(canvas);

  var datasets = [{
    data: toPoints(p.rows),
    pointStyle: 'rectRot',
    pointRadius: 3.6,
    backgroundColor: BLUE,
    borderColor: BLUE,
    borderWidth: 0.5,
    clip: false,
    order: 2
  }];
  p.bounds.forEach(function (b) {
    datasets.push({
      data: [{ x: xTicks[0], y: b }, { x: xTicks[xTicks.length - 1], y: b }],
      showLine: true,
      borderColor: RED,
      borderWidth: 2.5,
      borderDash: [11, 5],
      pointRadius: 0,
      order: 1
    });
  });

  var tickFont = { size: 17, family: FONT };
  new Chart(canvas.getContext('2d'), {
    type: 'scatter',
    data: { datasets: datasets },
    options: {
      responsive: false,
      animation: false,
      events: [],
      layout: { padding: { left: 0, top: 30, right: 26, bottom: 0 } },
      plugins: {
        legend: { display: false },
        tooltip: { enabled: false },
        frame: { xTitleY: p.xTitleY - top, yTitleX: 12, yTitle: p.yTitle, shift: p.shift, exponent: !!p.exponent }
      },
      scales: {
        x: {
          type: 'linear',
          min: xTicks[0],
          max: xTicks[xTicks.length - 1],
          afterBuildTicks: function (s) { s.ticks = xTicks.map(function (v) { return { value: v }; }); },
          afterFit: function (s) { s.height = xHeight; },
          ticks: { autoSkip: false, maxRotation: 0, padding: 2, color: TEXT, font: tickFont, callback: function (v) { return String(v); } },
          grid: { color: '#555', lineWidth: 1, drawTicks: false },
          border: { display: false, dash: [1.5, 3] }
        },
        y: {
          type: 'linear',
          min: p.yMin,
          max: p.yMax,
          afterBuildTicks: function (s) { s.ticks = p.yTicks.map(function (v) { return { value: v }; }); },
          afterFit: function (s) { s.width = yWidth; },
          ticks: { autoSkip: false, padding: 5, color: TEXT, font: tickFont, callback: function (v) { return String(v); } },
          grid: { color: '#555', lineWidth: 1, drawTicks: false },
          border: { display: false, dash: [1.5, 3] }
        }
      }
    },
    plugins: [frame]
  });
}

panels.forEach(makePanel);
</script>
</body>
</html>
